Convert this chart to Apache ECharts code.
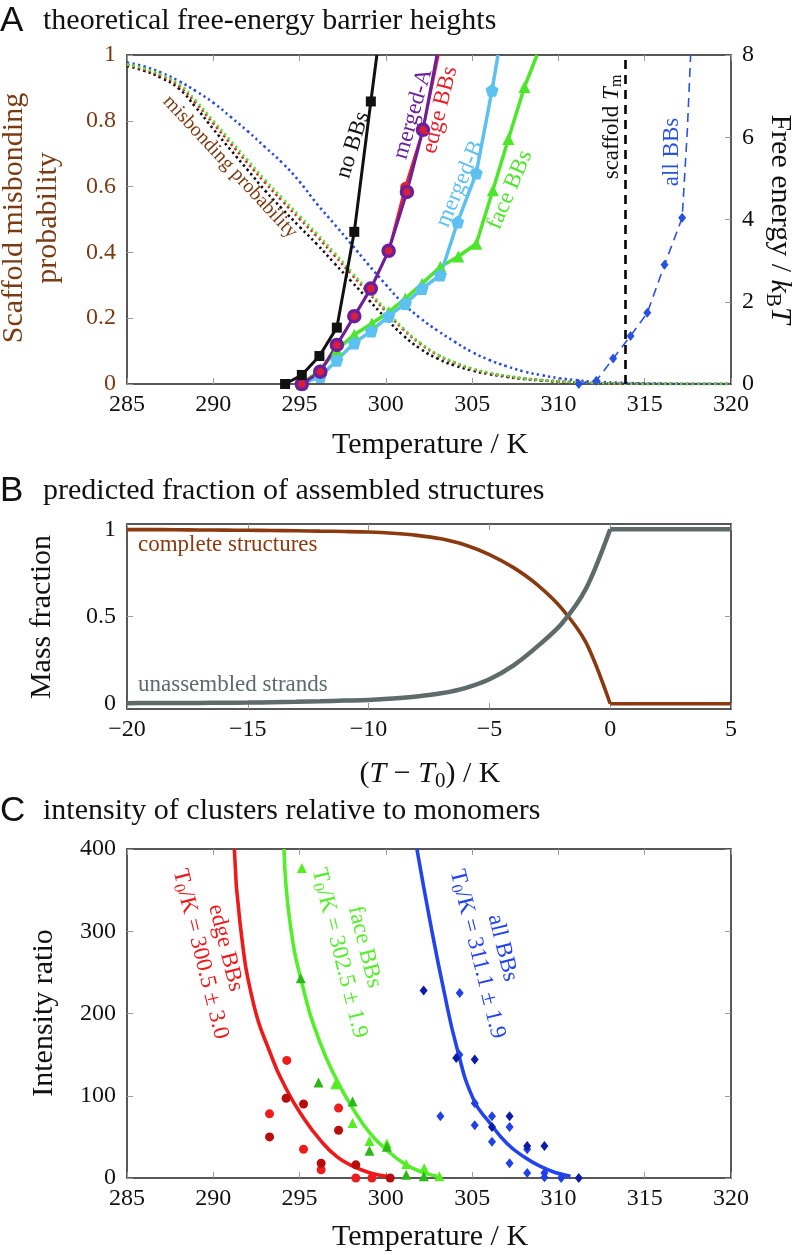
<!DOCTYPE html>
<html><head><meta charset="utf-8">
<script src="https://cdn.jsdelivr.net/npm/echarts@6/dist/echarts.min.js"></script>
<style>html,body{margin:0;padding:0;background:#fff}#c{width:793px;height:1255px}</style>
</head><body><div id="c"></div>
<script>
// ---------------- Panel A: free-energy barriers (k_B T) vs temperature (K) ----------------
// (last value of each solid curve = where it leaves the top of the frame; drawn without a marker)
const noBB_T    = [294.16, 295.13, 296.15, 297.16, 298.17, 299.13, 299.48];
const noBB_F    = [0, 0.22, 0.68, 1.37, 3.70, 6.87, 8];
const edge_T    = [295.13, 296.2, 297.16, 298.17, 299.13, 300.16, 301.12, 302.15, 303.05];
const edge_F    = [0, 0.3, 0.95, 1.65, 2.32, 3.24, 4.79, 6.18, 8];
const mergedA_T = [295.13, 296.2, 297.16, 298.17, 299.13, 300.16, 301.22, 302.15, 302.96];
const mergedA_F = [0, 0.3, 0.95, 1.65, 2.32, 3.24, 4.67, 6.18, 8];
const mergedB_T = [295.13, 296.2, 297.16, 298.17, 299.16, 300.16, 301.13, 302.1, 303.16, 304.16, 305.24, 306.15, 306.5];
const mergedB_F = [0, 0.18, 0.58, 1.0, 1.29, 1.65, 1.96, 2.32, 2.65, 3.94, 5.13, 7.14, 8];
const face_T    = [295.13, 296.2, 297.16, 298.17, 299.19, 300.16, 301.13, 302.1, 303.16, 304.2, 305.24, 306.2, 307.1, 308.03, 308.76];
const face_F    = [0, 0.35, 0.83, 1.2, 1.47, 1.75, 2.08, 2.44, 2.85, 3.10, 3.41, 4.71, 5.96, 7.22, 8];
// all BBs: last two values are the dashed continuation without markers
const allBB_T   = [311.18, 312.2, 313.17, 314.18, 315.15, 316.15, 317.17, 317.47, 317.66];
const allBB_F   = [0, 0.08, 0.62, 1.17, 1.73, 2.90, 4.04, 6.17, 8];
const scaffoldTm = 313.85;

// misbonding probability (left axis)
const misT     = [285,286,287,288,289,290,291,292,293,294,295,296,297,298,299,300,301,302,303,304,305,306,307,308,309,310,311,312,314,316,318,320];
const misBlack = [.967,.952,.930,.898,.840,.775,.712,.650,.588,.532,.478,.425,.368,.312,.256,.200,.148,.107,.077,.056,.041,.030,.022,.015,.011,.007,.005,.003,.001,0,0,0];
const misRed   = [.970,.956,.936,.906,.853,.792,.731,.671,.612,.556,.502,.449,.392,.334,.277,.221,.166,.122,.088,.064,.046,.033,.024,.017,.012,.008,.005,.003,.001,0,0,0];
const misGreen = [.972,.959,.940,.912,.861,.800,.740,.680,.621,.565,.511,.457,.400,.341,.283,.226,.170,.125,.090,.066,.047,.034,.025,.017,.012,.008,.005,.003,.001,0,0,0];
const misBlue  = [.977,.965,.946,.921,.890,.855,.812,.768,.720,.672,.615,.548,.487,.425,.362,.302,.245,.200,.162,.128,.097,.073,.054,.038,.027,.018,.012,.007,.003,.001,0,0];

// ---------------- Panel B: mass fraction vs (T - T0) ----------------
const dT           = [-20,-19,-18,-17,-16,-15,-14,-13,-12,-11,-10,-9,-8,-7,-6,-5,-4,-3,-2,-1,0];
const complete     = [.998,.998,.997,.996,.995,.994,.993,.991,.989,.987,.984,.977,.965,.945,.910,.855,.780,.680,.545,.350,0];
const unassembled  = [.003,.004,.004,.005,.006,.007,.009,.011,.014,.018,.022,.030,.042,.060,.090,.140,.220,.330,.460,.660,1.0];
const aboveT0      = [0, 5];
const completeAbove    = [0, 0];
const unassembledAbove = [1, 1];

// ---------------- Panel C: intensity ratio vs temperature ----------------
const edgeFit_T  = [291.22, 291.55, 292.33, 293.3, 294.26, 295.23, 296.2, 297.16, 298.13, 299.1, 300.06];
const edgeFit_V  = [400, 310, 212, 152, 107, 73, 46, 26, 14, 6, 2];
const faceFit_T  = [294.1, 294.45, 295.23, 296.2, 297.16, 298.13, 299.1, 300.06, 301.03, 302.0, 302.96];
const faceFit_V  = [400, 310, 229, 164, 119, 83, 54, 34, 18, 8, 2];
const allFit_T   = [301.8, 302.58, 303.35, 304.12, 305.09, 306.06, 307.02, 307.99, 308.96, 309.92, 310.7];
const allFit_V   = [400, 310, 229, 158, 95, 66, 42, 26, 14, 6, 2];

const edgePtsA_T = [293.26, 294.26, 295.23, 296.25, 297.26, 298.26, 299.19];
const edgePtsA_V = [78, 143, 35, 10, 85, 0, 0];
const edgePtsB_T = [293.26, 294.22, 295.23, 296.25, 297.26, 298.26, 300.25];
const edgePtsB_V = [50, 97, 90, 18, 58, 16, 0];
const facePtsA_T = [295.13, 297.07, 298.07, 299.05, 300.06, 301.18, 302.22, 303.1];
const facePtsA_V = [377, 114, 67, 45, 42, 17, 12, 2];
const facePtsB_T = [295.07, 296.1, 298.07, 299.05, 300.06, 301.18, 302.2];
const facePtsB_V = [243, 116, 93, 33, 38, 4, 2];
const allPtsA_T  = [304.28, 303.16, 304.26, 305.15, 305.15, 306.15, 306.15, 307.17, 307.17, 308.19, 308.19, 309.19, 309.19, 310.16];
const allPtsA_V  = [225, 75, 150, 91, 64, 75, 44, 62, 18, 35, 6, 6, 1, 0];
const allPtsB_T  = [302.19, 304.08, 305.15, 306.15, 307.17, 308.19, 309.19, 311.18];
const allPtsB_V  = [228, 146, 144, 62, 75, 39, 39, 0];

// ---------------- rendering ----------------
const SERIF = 'Liberation Serif';
const SANS = 'Liberation Sans';
const BROWN = '#7a3b12';
const zip = (xs, ys) => xs.map((x, i) => [x, ys[i]]);
const withTail = (xs, ys, tail) => xs.map((x, i) => i >= xs.length - tail ? {value: [x, ys[i]], symbol: 'none'} : [x, ys[i]]);

const axLine = {show: true, onZero: false, lineStyle: {color: '#222', width: 1.5}};
const tick = {show: true, inside: true, length: 6, lineStyle: {color: '#999', width: 1}};
const lab = {fontFamily: SERIF, fontSize: 24, color: '#111', margin: 9};
const noSplit = {show: false};

function xAx(gi, min, max, interval, pos, labels, fmt) {
  return {type: 'value', gridIndex: gi, min, max, interval, position: pos,
    axisLine: axLine, axisTick: tick, splitLine: noSplit,
    axisLabel: labels ? Object.assign({show: true, showMinLabel: true, showMaxLabel: true, formatter: fmt}, lab) : {show: false}};
}
function yAx(gi, min, max, interval, pos, labels, extra) {
  const a = {type: 'value', gridIndex: gi, min, max, position: pos,
    axisLine: axLine, axisTick: Object.assign({}, tick), splitLine: noSplit,
    axisLabel: labels ? Object.assign({show: true, showMinLabel: true, showMaxLabel: true}, lab, {margin: 11}) : {show: false}};
  if (interval != null) a.interval = interval;
  if (extra) {
    if (extra.color) a.axisLabel.color = extra.color;
    if (extra.custom) { a.axisTick.customValues = extra.custom; if (labels) a.axisLabel.customValues = extra.custom; }
  }
  return a;
}

const pentagon = 'path://M0,-1 L0.951,-0.309 L0.588,0.809 L-0.588,0.809 L-0.951,-0.309 Z';

function dotted(data, color) {
  return {type: 'line', xAxisIndex: 0, yAxisIndex: 0, data: zip(misT, data), showSymbol: false, smooth: true,
    lineStyle: {color, width: 2.6, type: [2.4, 3.2]}, z: 2, silent: true};
}
function solidA(xs, ys, tail, color, width, symbol, size, extra) {
  const s = {type: 'line', xAxisIndex: 0, yAxisIndex: 1, data: withTail(xs, ys, tail), symbol, symbolSize: size,
    showAllSymbol: true, lineStyle: {color, width}, itemStyle: {color}, z: 3, silent: true};
  return Object.assign(s, extra || {});
}
function lineB(xs, ys, color, width, smooth) {
  return {type: 'line', xAxisIndex: 2, yAxisIndex: 2, data: zip(xs, ys), smooth, showSymbol: false,
    lineStyle: {color, width}, silent: true};
}

const series = [
  dotted(misBlue, '#2a4de0'),
  dotted(misBlack, '#111111'),
  dotted(misRed, '#d8281c'),
  dotted(misGreen, '#5ee03a'),
  solidA(face_T, face_F, 1, '#4ee62a', 3.5, 'triangle', 12),
  solidA(mergedB_T, mergedB_F, 1, '#5cc0f0', 3.5, pentagon, 13),
  solidA(edge_T, edge_F, 1, '#e8202a', 2.5, 'circle', 10),
  solidA(mergedA_T, mergedA_F, 1, '#6b1f9c', 3, 'circle', 11,
    {itemStyle: {color: '#d8203a', borderColor: '#6b1f9c', borderWidth: 3.5}}),
  solidA(noBB_T, noBB_F, 1, '#111111', 3, 'rect', 10),
  solidA(allBB_T, allBB_F, 2, '#2a52e0', 1.6, 'diamond', [8, 10], {
    lineStyle: {color: '#2a52e0', width: 1.6, type: [9, 6]},
    markLine: {silent: true, symbol: ['none', 'none'], label: {show: false},
      lineStyle: {color: '#000', width: 2.6, type: [9, 6]}, data: [{xAxis: scaffoldTm}]}
  }),
  // Panel B
  lineB(dT, complete, '#8a3a0e', 3.6, 0.3),
  lineB(aboveT0, completeAbove, '#8a3a0e', 3.6, false),
  lineB(dT, unassembled, '#5f6b6b', 4.5, 0.3),
  lineB(aboveT0, unassembledAbove, '#5f6b6b', 4.5, false)
];

function fitC(xs, ys, color) {
  return {type: 'line', xAxisIndex: 4, yAxisIndex: 4, data: zip(xs, ys), smooth: true, showSymbol: false,
    lineStyle: {color, width: 3.6}, z: 3, silent: true};
}
function ptsC(xs, ys, color, symbol, size) {
  return {type: 'scatter', xAxisIndex: 4, yAxisIndex: 4, data: zip(xs, ys), symbol, symbolSize: size,
    itemStyle: {color, opacity: 1}, z: 4, silent: true};
}
series.push(
  fitC(edgeFit_T, edgeFit_V, '#ee1a1a'),
  fitC(faceFit_T, faceFit_V, '#55ee2a'),
  fitC(allFit_T, allFit_V, '#2244ee'),
  ptsC(edgePtsA_T, edgePtsA_V, '#ee1c1c', 'circle', 9),
  ptsC(edgePtsB_T, edgePtsB_V, '#b80d0d', 'circle', 9),
  ptsC(facePtsA_T, facePtsA_V, '#55ee22', 'triangle', 10),
  ptsC(facePtsB_T, facePtsB_V, '#2cb818', 'triangle', 10),
  ptsC(allPtsA_T, allPtsA_V, '#2040e8', 'diamond', [8, 10]),
  ptsC(allPtsB_T, allPtsB_V, '#0c1aa8', 'diamond', [8, 10])
);

function richFor(fs, color) {
  const sub = Math.round(fs * 0.7);
  const lh = Math.round(fs * 1.15);
  return {
    i: {fontFamily: SERIF, fontSize: fs, fontStyle: 'italic', fill: color, color, lineHeight: lh},
    s: {fontFamily: SERIF, fontSize: sub, fill: color, color, verticalAlign: 'bottom', lineHeight: sub}
  };
}
function T(x, y, text, o) {
  o = o || {};
  const fs = o.size || 23;
  const color = o.color || '#111';
  const align = o.align || 'center';
  return {
    type: 'text', x, y, z: 50, silent: true,
    rotation: (o.rot || 0) * Math.PI / 180,
    style: {
      text, fill: color, fontFamily: o.family || SERIF, fontSize: fs,
      fontStyle: o.italic ? 'italic' : 'normal',
      lineHeight: o.lh || Math.round(fs * 1.15),
      align, textAlign: align, verticalAlign: 'middle', textVerticalAlign: 'middle',
      rich: richFor(fs, color)
    }
  };
}

const graphic = [
  // panel titles
  T(0, 21, 'A', {family: SANS, size: 35, align: 'left'}),
  T(43, 21, 'theoretical free-energy barrier heights', {size: 30, align: 'left'}),
  T(0, 491, 'B', {family: SANS, size: 35, align: 'left'}),
  T(43, 491, 'predicted fraction of assembled structures', {size: 30, align: 'left'}),
  T(0, 811, 'C', {family: SANS, size: 35, align: 'left'}),
  T(43, 811, 'intensity of clusters relative to monomers', {size: 30, align: 'left'}),
  // axis titles
  T(31, 218, 'Scaffold misbonding\nprobability', {size: 30, color: BROWN, rot: 90, lh: 34}),
  T(780, 219, 'Free energy / {i|k}{s|B}{i|T}', {size: 30, rot: -90}),
  T(430, 445, 'Temperature / K', {size: 30}),
  T(42, 617, 'Mass fraction', {size: 30, rot: 90}),
  T(430, 774, '({i|T} − {i|T}{s|0}) / K', {size: 30}),
  T(44, 1013, 'Intensity ratio', {size: 30, rot: 90}),
  T(430, 1237, 'Temperature / K', {size: 30}),
  // panel A curve labels
  T(353, 145, 'no BBs', {rot: 73}),
  T(413, 114, 'merged-A', {rot: 74, color: '#6b1f9c'}),
  T(440, 110, 'edge BBs', {rot: 76, color: '#e8202a'}),
  T(460, 184, 'merged-B', {rot: 67, color: '#5cc0f0'}),
  T(510, 190, 'face BBs', {rot: 67, color: '#4ee62a'}),
  T(612, 127, 'scaffold {i|T}{s|m}', {rot: 90}),
  T(672, 152, 'all BBs', {rot: 90, color: '#2a52e0'}),
  T(230, 167, 'misbonding probability', {size: 20, rot: -47, color: BROWN}),
  // panel B labels
  T(138, 545, 'complete structures', {align: 'left', color: '#8a3a0e'}),
  T(138, 685, 'unassembled strands', {align: 'left', color: '#5f6b6b'}),
  // panel C labels
  T(213, 951, 'edge BBs\nT{s|0}/K = 300.5 ± 3.0', {rot: -76, color: '#ee1a1a', lh: 26}),
  T(352, 950, 'face BBs\nT{s|0}/K = 302.5 ± 1.9', {rot: -76, color: '#55ee2a', lh: 26}),
  T(490, 951, 'all BBs\nT{s|0}/K = 311.1 ± 1.9', {rot: -76, color: '#2244ee', lh: 26})
];

const minus = v => String(v).replace('-', '−');

const option = {
  animation: false,
  backgroundColor: '#fff',
  grid: [
    {left: 127, top: 55, width: 604, height: 329, outerBoundsMode: 'none'},
    {left: 127, top: 524, width: 604, height: 185, outerBoundsMode: 'none'},
    {left: 127, top: 849, width: 604, height: 329, outerBoundsMode: 'none'}
  ],
  xAxis: [
    xAx(0, 285, 320, 5, 'bottom', true),
    xAx(0, 285, 320, 5, 'top', false),
    xAx(1, -20, 5, 5, 'bottom', true, minus),
    xAx(1, -20, 5, 5, 'top', false),
    xAx(2, 285, 320, 5, 'bottom', true),
    xAx(2, 285, 320, 5, 'top', false)
  ],
  yAxis: [
    yAx(0, 0, 1, 0.2, 'left', true, {color: BROWN}),
    yAx(0, 0, 8, 2, 'right', true),
    yAx(1, -0.03, 1.03, null, 'left', true, {custom: [0, 0.5, 1]}),
    yAx(1, -0.03, 1.03, null, 'right', false, {custom: [0, 0.5, 1]}),
    yAx(2, 0, 400, 100, 'left', true),
    yAx(2, 0, 400, 100, 'right', false)
  ],
  series,
  graphic
};
const chart = echarts.init(document.getElementById('c'));
chart.setOption(option);
</script>
</body></html>
